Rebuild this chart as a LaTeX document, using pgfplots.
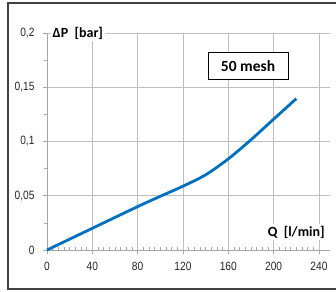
\documentclass[border=0pt]{standalone}
\usepackage{pgfplots}
\pgfplotsset{compat=1.18}
\usepackage{fontspec}
\setmainfont{Liberation Sans}
\newfontfamily\carl{Carlito}
\newfontfamily\narrowf[FakeStretch=0.85]{Liberation Sans}
\definecolor{gridc}{HTML}{BFBFBF}
\definecolor{axc}{HTML}{A6A6A6}
\definecolor{curve}{HTML}{0070C0}
\definecolor{framec}{HTML}{404040}
\begin{document}
\begin{tikzpicture}
\path[use as bounding box] (0pt,0pt) rectangle (336pt,291pt);
\draw[line width=1.6pt, framec] (337pt,288pt) -- (8pt,288pt) -- (8pt,2pt) -- (337pt,2pt);
\begin{axis}[
  at={(47pt,41pt)}, anchor=origin,
  scale only axis, width=283.3pt, height=217pt,
  xmin=0, xmax=250, ymin=0, ymax=0.2,
  axis x line=bottom, axis y line=left,
  axis line style={axc, line width=0.8pt, -},
  xtick={0,40,80,120,160,200,240},
  ytick={0,0.05,0.1,0.15,0.2},
  yticklabels={0,{0,05},{0,1},{0,15},{0,2}},
  minor x tick num=7, minor y tick num=1,
  grid=major, major grid style={gridc, line width=0.9pt},
  tick align=outside, major tick length=4pt, minor tick length=3pt,
  tick style={axc, line width=0.7pt},
  minor x tick style={yshift=3pt},
  tick label style={font=\narrowf\fontsize{12}{12}\selectfont, text=black!85},
  /pgf/number format/assume math mode=true,
  xticklabel style={yshift=-4.5pt},
  yticklabel style={xshift=-5pt},
  clip=false,
]
\addplot[curve, line width=2.8pt, smooth] coordinates {
(0,0) (40,0.02) (80,0.04) (100,0.0495) (120,0.0588) (140,0.0693) (160,0.084) (180,0.1016) (200,0.1206) (220,0.1395)
};
\node[anchor=west, fill=white, inner sep=1.5pt, font=\carl\bfseries\fontsize{14}{16}\selectfont] at (axis cs:3.5,0.2) {ΔP\ \ [bar]};
\node[anchor=east, fill=white, inner sep=1.5pt, font=\carl\bfseries\fontsize{14}{16}\selectfont] at (axis cs:246.5,0.0166) {Q\ \ [l/min]};
\node[draw=black, line width=0.8pt, fill=white, minimum width=80pt, minimum height=27pt, inner sep=0pt, font=\carl\bfseries\fontsize{15.5}{17}\selectfont] at (axis cs:177.4,0.1696) {50 mesh};
\end{axis}
\end{tikzpicture}
\end{document}
